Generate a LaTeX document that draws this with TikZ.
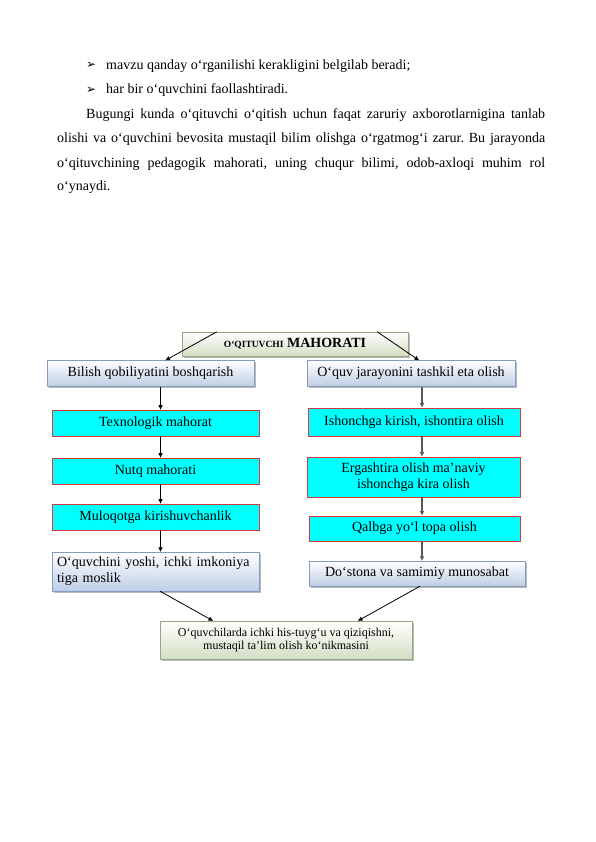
\documentclass[tikz,border=0pt]{standalone}
\usepackage{fontspec}
\setmainfont{Liberation Serif}
\newfontfamily\symfont{DejaVu Sans}
\usetikzlibrary{arrows.meta, shadows}
\definecolor{mahoratblue}{RGB}{190, 205, 230}
\definecolor{mahoratedge}{RGB}{135, 155, 190}
\definecolor{mahoratgreen}{RGB}{212, 222, 196}
\definecolor{greenedge}{RGB}{150, 165, 130}
\definecolor{mahoratred}{RGB}{215, 55, 55}
\definecolor{mahoratcyan}{RGB}{0, 255, 255}
\tikzset{
  basebox/.style={inner sep=0pt, minimum width=207pt, minimum height=26pt, font=\fontsize{14}{16}\selectfont},
  bluebox/.style={basebox, draw=mahoratedge, top color=white, bottom color=mahoratblue,
    drop shadow={shadow xshift=1.5pt, shadow yshift=-1.5pt, fill=black!45, opacity=0.6}},
  cyanbox/.style={basebox, draw=mahoratred, fill=mahoratcyan, line width=0.8pt},
  greenbox/.style={basebox, draw=greenedge, top color=white, bottom color=mahoratgreen,
    drop shadow={shadow xshift=1.5pt, shadow yshift=-1.5pt, fill=black!45, opacity=0.6}},
  leftarrow/.style={-{Triangle[length=4.5pt, width=4pt]}, line width=0.8pt},
  rightarrow/.style={-{Triangle[length=4.5pt, width=4pt]}, line width=1.3pt, black!65},
  bodytext/.style={anchor=base west, inner sep=0pt, font=\fontsize{14}{16}\selectfont}
}
\frenchspacing

\begin{document}
\begin{tikzpicture}[x=1pt, y=-1pt]
    \fill[white] (0,0) rectangle (595,842);
    \useasboundingbox (0,0) rectangle (595,842);

    % Text above the diagram
    \node[bodytext] (bul1) at (86, 69) {\symfont\fontsize{12}{13}\selectfont ➢};
    \node[bodytext] (txt1) at (106, 69.5) {mavzu qanday o‘rganilishi kerakligini belgilab beradi;};
    \node[bodytext] (bul2) at (86, 93.5) {\symfont\fontsize{12}{13}\selectfont ➢};
    \node[bodytext] (txt2) at (106, 94) {har bir o‘quvchini faollashtiradi.};
    \node[bodytext] (par1) at (86, 118.5) {\makebox[459pt][s]{Bugungi kunda o‘qituvchi o‘qitish uchun faqat zaruriy axborotlarnigina tanlab}};
    \node[bodytext] (par2) at (57, 143) {\makebox[488pt][s]{olishi va o‘quvchini bevosita mustaqil bilim olishga o‘rgatmog‘i zarur. Bu jarayonda}};
    \node[bodytext] (par3) at (57, 167.5) {\makebox[488pt][s]{o‘qituvchining pedagogik mahorati, uning chuqur bilimi, odob-axloqi muhim rol}};
    \node[bodytext] (par4) at (57, 191) {o‘ynaydi.};

    % Title
    \node[greenbox, minimum width=226pt, minimum height=24pt] (title) at (295, 344)
        {\bfseries{\fontsize{9.5}{10}\selectfont O‘QITUVCHI} {\fontsize{14}{16}\selectfont MAHORATI}};

    % Left column
    \node[bluebox] (bilish) at (150.5, 373.5) {Bilish qobiliyatini boshqarish};
    \node[cyanbox] (texno) at (155.5, 423) {Texnologik mahorat};
    \node[cyanbox] (nutq) at (155.5, 471) {Nutq mahorati};
    \node[cyanbox] (muloqot) at (155.5, 517) {Muloqotga kirishuvchanlik};
    \node[bluebox, minimum height=39pt, text width=197pt, inner xsep=5pt, align=left] (yoshi) at (155.5, 571.5)
        {O‘quvchini yoshi, ichki imkoniya\\tiga moslik};

    % Right column
    \node[bluebox, minimum width=208pt] (oquv) at (411, 373.5) {O‘quv jarayonini tashkil eta olish};
    \node[cyanbox, minimum width=212pt, minimum height=28pt] (ishonch) at (414, 422) {Ishonchga kirish, ishontira olish};
    \node[cyanbox, minimum width=213pt, minimum height=40pt, align=center] (ergash) at (413.5, 477)
        {Ergashtira olish ma’naviy\\ishonchga kira olish};
    \node[cyanbox, minimum width=211pt, minimum height=25pt] (qalb) at (414.5, 528.5) {Qalbga yo‘l topa olish};
    \node[bluebox, minimum width=216pt, minimum height=25pt] (dost) at (417, 573.5) {Do‘stona va samimiy munosabat};

    % Bottom box
    \node[greenbox, minimum width=252pt, minimum height=38pt, align=center, font=\fontsize{12}{13.5}\selectfont] (natija) at (286, 640)
        {O‘quvchilarda ichki his-tuyg‘u va qiziqishni,\\mustaqil ta’lim olish ko‘nikmasini};

    % Arrows
    \draw[leftarrow] ([xshift=35pt]title.north west) -- ([xshift=15pt]bilish.north);
    \draw[leftarrow] ([xshift=-31pt]title.north east) -- ([xshift=8pt]oquv.north);
    \draw[leftarrow] ([xshift=10pt]bilish.south) -- ([xshift=5pt]texno.north);
    \draw[leftarrow] ([xshift=5pt]texno.south) -- ([xshift=5pt]nutq.north);
    \draw[leftarrow] ([xshift=5pt]nutq.south) -- ([xshift=5pt]muloqot.north);
    \draw[leftarrow] ([xshift=5pt]muloqot.south) -- ([xshift=5pt]yoshi.north);
    \draw[rightarrow] ([xshift=11pt]oquv.south) -- ([xshift=8pt]ishonch.north);
    \draw[rightarrow] ([xshift=8pt]ishonch.south) -- ([xshift=8.5pt]ergash.north);
    \draw[rightarrow] ([xshift=8.5pt]ergash.south) -- ([xshift=7.5pt]qalb.north);
    \draw[rightarrow] ([xshift=7.5pt]qalb.south) -- ([xshift=5pt]dost.north);
    \draw[leftarrow] ([xshift=4.5pt]yoshi.south) -- ([xshift=-73pt]natija.north);
    \draw[leftarrow] ([xshift=3pt]dost.south) -- ([xshift=72pt]natija.north);
\end{tikzpicture}
\end{document}
